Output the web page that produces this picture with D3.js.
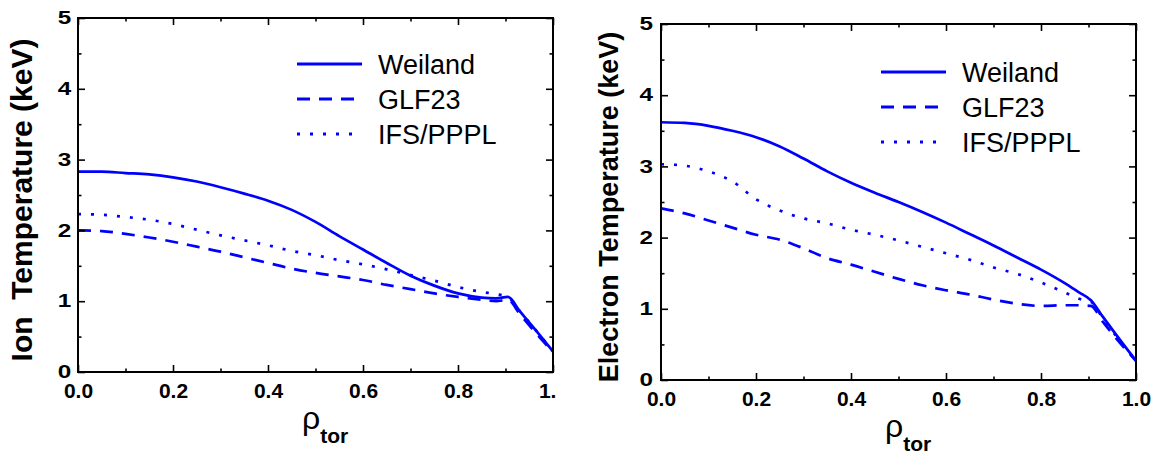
<!DOCTYPE html>
<html>
<head>
<meta charset="utf-8">
<script src="https://cdn.jsdelivr.net/npm/d3@7"></script>
<style>
  body { margin: 0; background: #fff; }
  text { font-family: Arial, "Liberation Sans", sans-serif; }
</style>
</head>
<body>
<svg width="1160" height="454"></svg>
<script>
// radial grid shared by all curves
const rho = [0, 0.05, 0.1, 0.15, 0.2, 0.25, 0.3, 0.35, 0.4, 0.45, 0.5, 0.55, 0.6, 0.65, 0.7, 0.75, 0.8, 0.85, 0.88, 0.905, 0.93, 0.96, 1.0];

// ion temperature (keV)
const ionWeiland = [2.83, 2.83, 2.81, 2.79, 2.75, 2.69, 2.61, 2.52, 2.42, 2.29, 2.12, 1.92, 1.73, 1.54, 1.36, 1.22, 1.11, 1.05, 1.04, 1.06, 0.86, 0.62, 0.29];
const ionGLF23   = [2.00, 1.99, 1.95, 1.90, 1.84, 1.77, 1.70, 1.62, 1.54, 1.46, 1.40, 1.35, 1.30, 1.23, 1.17, 1.11, 1.06, 1.02, 1.00, 1.02, 0.82, 0.58, 0.28];
const ionIFS     = [2.23, 2.22, 2.19, 2.15, 2.09, 2.01, 1.93, 1.86, 1.79, 1.71, 1.65, 1.58, 1.52, 1.45, 1.37, 1.29, 1.20, 1.13, 1.10, 1.06, 0.86, 0.62, 0.29];

// electron temperature (keV)
const elWeiland = [3.62, 3.61, 3.57, 3.50, 3.41, 3.28, 3.11, 2.93, 2.77, 2.63, 2.50, 2.36, 2.21, 2.05, 1.89, 1.72, 1.55, 1.36, 1.23, 1.12, 0.89, 0.62, 0.27];
const elGLF23   = [2.41, 2.34, 2.24, 2.14, 2.04, 1.97, 1.85, 1.71, 1.62, 1.52, 1.42, 1.33, 1.26, 1.20, 1.13, 1.07, 1.04, 1.05, 1.05, 1.04, 0.82, 0.57, 0.27];
const elIFS     = [3.03, 3.01, 2.93, 2.79, 2.54, 2.38, 2.27, 2.20, 2.11, 2.04, 1.96, 1.87, 1.78, 1.69, 1.58, 1.49, 1.37, 1.23, 1.14, 1.10, 0.87, 0.60, 0.27];

const seriesNames = ['Weiland', 'GLF23', 'IFS/PPPL'];
const xMajor = [0, 0.2, 0.4, 0.6, 0.8, 1.0];
const xMinor = [0.1, 0.3, 0.5, 0.7, 0.9];
const yMajor = [0, 1, 2, 3, 4, 5];
const yMinor = [0.5, 1.5, 2.5, 3.5, 4.5];

const dashes = [null, '13,9', '3,10'];
const blue = '#0000ff';

const svg = d3.select('svg');

const panels = [
    { x0: 78, x1: 553, y0: 18, y1: 372, label: 'Ion\u00a0 Temperature (keV)', labelSize: 30, labelX: 32,
      values: [ionWeiland, ionGLF23, ionIFS], legX: 297, legY: 64, clip: 557, yPad: 5 },
    { x0: 661, x1: 1136, y0: 24, y1: 380, label: 'Electron Temperature (keV)', labelSize: 27, labelX: 618,
      values: [elWeiland, elGLF23, elIFS], legX: 881, legY: 72, clip: null, yPad: 6 }
];

svg.append('defs').append('clipPath').attr('id', 'leftclip')
    .append('rect').attr('x', 0).attr('y', 0).attr('width', panels[0].clip).attr('height', 454);

panels.forEach(p => {
    const g = svg.append('g');
    if (p.clip) g.attr('clip-path', 'url(#leftclip)');

    const x = d3.scaleLinear().domain([0, 1]).range([p.x0, p.x1]);
    const y = d3.scaleLinear().domain([0, 5]).range([p.y1, p.y0]);

    // curves
    const line = d3.line().x(d => x(d[0])).y(d => y(d[1])).curve(d3.curveMonotoneX);
    p.values.forEach((vals, i) => {
        g.append('path')
            .datum(rho.map((r, j) => [r, vals[j]]))
            .attr('d', line)
            .attr('fill', 'none')
            .attr('stroke', blue)
            .attr('stroke-width', 2.7)
            .attr('stroke-dasharray', dashes[i]);
    });

    // axes, ticks pointing inward on all four sides
    const addAxis = (axis, tx, ty) => {
        const a = g.append('g').attr('transform', `translate(${tx},${ty})`).call(axis);
        a.select('.domain').remove();
        a.selectAll('line').attr('stroke', '#000').attr('stroke-width', 1.6);
        return a;
    };

    const bottom = addAxis(d3.axisBottom(x).tickValues(xMajor).tickSize(-7).tickPadding(11).tickFormat(d3.format('.1f')), 0, p.y1);
    bottom.selectAll('text').attr('font-size', 21).attr('font-weight', 'bold').attr('fill', '#000')
        .attr('font-family', 'Arial, "Liberation Sans", sans-serif');
    addAxis(d3.axisBottom(x).tickValues(xMinor).tickSize(-3.5).tickFormat(''), 0, p.y1);
    addAxis(d3.axisTop(x).tickValues(xMajor).tickSize(-7).tickFormat(''), 0, p.y0);
    addAxis(d3.axisTop(x).tickValues(xMinor).tickSize(-3.5).tickFormat(''), 0, p.y0);

    const left = addAxis(d3.axisLeft(y).tickValues(yMajor).tickSize(-7).tickPadding(p.yPad).tickFormat(d3.format('d')), p.x0, 0);
    left.selectAll('text').attr('font-size', 18).attr('font-weight', 'bold').attr('fill', '#000')
        .attr('font-family', 'Arial, "Liberation Sans", sans-serif')
        .attr('transform', 'scale(1.35,1)');
    addAxis(d3.axisLeft(y).tickValues(yMinor).tickSize(-3.5).tickFormat(''), p.x0, 0);
    addAxis(d3.axisRight(y).tickValues(yMajor).tickSize(-7).tickFormat(''), p.x1, 0);
    addAxis(d3.axisRight(y).tickValues(yMinor).tickSize(-3.5).tickFormat(''), p.x1, 0);

    g.append('rect')
        .attr('x', p.x0).attr('y', p.y0)
        .attr('width', p.x1 - p.x0).attr('height', p.y1 - p.y0)
        .attr('fill', 'none').attr('stroke', '#000').attr('stroke-width', 2);

    // y label
    g.append('text')
        .attr('transform', `translate(${p.labelX},${(p.y0 + p.y1) / 2 + 5}) rotate(-90)`)
        .attr('text-anchor', 'middle')
        .attr('font-size', p.labelSize)
        .attr('font-weight', 'bold')
        .text(p.label);

    // x label: rho_tor
    const xl = g.append('text')
        .attr('x', p.x0 + 224)
        .attr('y', p.y1 + 57)
        .attr('font-size', 32);
    xl.append('tspan').text('ρ');
    xl.append('tspan').attr('font-size', 21).attr('font-weight', 'bold').attr('dy', 14).text('tor');

    // legend
    seriesNames.forEach((name, i) => {
        const ly = p.legY + i * 35;
        g.append('line')
            .attr('x1', p.legX).attr('x2', p.legX + 65)
            .attr('y1', ly).attr('y2', ly)
            .attr('stroke', blue).attr('stroke-width', 2.8)
            .attr('stroke-dasharray', dashes[i]);
        g.append('text')
            .attr('x', p.legX + 81).attr('y', ly + 10)
            .attr('font-size', 27)
            .text(name);
    });
});
</script>
</body>
</html>
